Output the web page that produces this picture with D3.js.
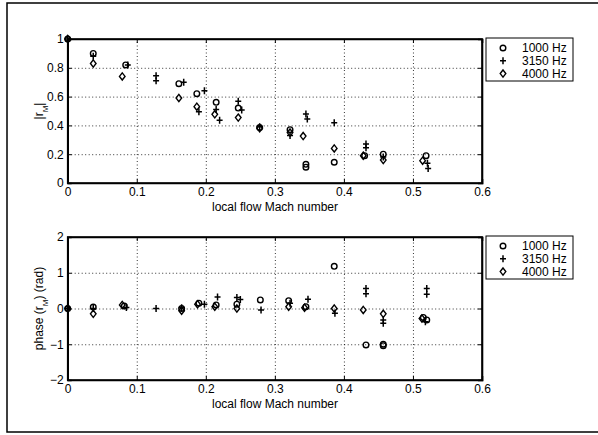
<!DOCTYPE html>
<html>
<head>
<meta charset="utf-8">
<script src="https://cdnjs.cloudflare.com/ajax/libs/d3/7.8.5/d3.min.js"></script>
<style>
  body { margin: 0; background: #fff; }
  text { font-family: "Liberation Sans", Arial, sans-serif; fill: #000; }
  .grid line { stroke: #000; stroke-dasharray: 1,2.5; stroke-width: 0.8; }
  .grid path { display: none; }
</style>
</head>
<body>
<div id="chart"></div>
<script>
// reflection coefficient magnitude |r_M|, [Mach, value]
var mag1000 = [[0,1],[0.037,0.90],[0.084,0.82],[0.161,0.69],[0.187,0.62],[0.215,0.56],[0.247,0.52],
  [0.278,0.385],[0.322,0.37],[0.345,0.13],[0.345,0.11],[0.386,0.144],[0.43,0.19],[0.457,0.20],[0.519,0.19]];
var mag3150 = [[0,1],[0.037,0.88],[0.087,0.82],[0.128,0.745],[0.128,0.71],[0.168,0.70],[0.198,0.64],
  [0.19,0.495],[0.215,0.51],[0.22,0.435],[0.247,0.567],[0.252,0.507],[0.278,0.39],[0.322,0.33],
  [0.345,0.479],[0.347,0.444],[0.386,0.419],[0.432,0.27],[0.432,0.245],[0.457,0.18],[0.521,0.137],[0.522,0.10]];
var mag4000 = [[0,1],[0.037,0.83],[0.079,0.74],[0.161,0.59],[0.187,0.53],[0.213,0.477],[0.247,0.454],
  [0.278,0.38],[0.322,0.35],[0.341,0.326],[0.386,0.24],[0.428,0.19],[0.457,0.16],[0.514,0.155]];

// phase of r_M (rad), [Mach, value]
var phase1000 = [[0,0],[0.037,0.04],[0.082,0.07],[0.165,0.0],[0.19,0.15],[0.215,0.1],[0.245,0.12],
  [0.279,0.24],[0.32,0.22],[0.345,0.05],[0.386,1.18],[0.432,-1.02],[0.457,-1.04],[0.457,-1.0],
  [0.515,-0.25],[0.52,-0.32]];
var phase3150 = [[0,0],[0.037,0.0],[0.085,0.03],[0.128,0.0],[0.165,0.02],[0.198,0.12],[0.217,0.32],
  [0.245,0.31],[0.25,0.25],[0.28,-0.04],[0.322,0.15],[0.348,0.26],[0.387,-0.13],[0.432,0.56],
  [0.432,0.41],[0.457,-0.32],[0.457,-0.41],[0.52,0.56],[0.52,0.40],[0.518,-0.37]];
var phase4000 = [[0,0],[0.037,-0.15],[0.079,0.1],[0.165,-0.06],[0.188,0.12],[0.213,0.05],[0.245,0.0],
  [0.32,0.05],[0.343,0.02],[0.386,0.0],[0.428,-0.04],[0.457,-0.15],[0.513,-0.28]];

var legendLabels = ["1000 Hz", "3150 Hz", "4000 Hz"];
var markers = ["circle", "plus", "diamond"];
var xTicks = [0, 0.1, 0.2, 0.3, 0.4, 0.5, 0.6];
var magTicks = [0, 0.2, 0.4, 0.6, 0.8, 1];
var phaseTicks = [-2, -1, 0, 1, 2];

var svgWidth = 598, svgHeight = 435;
var svg = d3.select("#chart").append("svg")
  .attr("width", svgWidth)
  .attr("height", svgHeight);

svg.append("rect").attr("width", svgWidth).attr("height", svgHeight).attr("fill", "#fff");
// outer figure frame (right side runs off the picture)
svg.append("rect")
  .attr("x", 7).attr("y", 3).attr("width", 620).attr("height", 429)
  .attr("fill", "none").attr("stroke", "#000").attr("stroke-width", 1.5);

function drawMarker(g, type, x, y) {
  if (type == "circle") {
    g.append("circle").attr("cx", x).attr("cy", y).attr("r", 2.8)
      .attr("fill", "none").attr("stroke", "#000").attr("stroke-width", 1.4);
  } else if (type == "plus") {
    g.append("path").attr("d", `M${x-3},${y}H${x+3}M${x},${y-3.5}V${y+3.5}`)
      .attr("stroke", "#000").attr("stroke-width", 1.5);
  } else {
    g.append("path").attr("d", `M${x},${y-3.6}L${x+2.8},${y}L${x},${y+3.6}L${x-2.8},${y}Z`)
      .attr("fill", "none").attr("stroke", "#000").attr("stroke-width", 1.4);
  }
}

function panel(top, bottom, yDomain, yTicks, series, yLabel, legendY) {
  var left = 67.7, right = 482;
  var x = d3.scaleLinear().domain([0, 0.6]).range([left, right]);
  var y = d3.scaleLinear().domain(yDomain).range([bottom, top]);
  var h = bottom - top, w = right - left;

  // dotted grid
  svg.append("g").attr("class", "grid")
    .attr("transform", `translate(0,${bottom})`)
    .call(d3.axisBottom(x).tickValues(xTicks.slice(1, -1)).tickSize(-h).tickFormat(""));
  svg.append("g").attr("class", "grid")
    .attr("transform", `translate(${left},0)`)
    .call(d3.axisLeft(y).tickValues(yTicks.slice(1, -1)).tickSize(-w).tickFormat(""));

  // axes with inward ticks
  var xa = svg.append("g").attr("transform", `translate(0,${bottom})`)
    .call(d3.axisBottom(x).tickValues(xTicks).tickSize(-4).tickPadding(4).tickFormat(d3.format("")));
  var ya = svg.append("g").attr("transform", `translate(${left},0)`)
    .call(d3.axisLeft(y).tickValues(yTicks).tickSize(-4).tickPadding(4).tickFormat(d3.format("")));
  svg.append("g").attr("transform", `translate(0,${top})`)
    .call(d3.axisTop(x).tickValues(xTicks).tickSize(-4).tickFormat(""));
  svg.append("g").attr("transform", `translate(${right},0)`)
    .call(d3.axisRight(y).tickValues(yTicks).tickSize(-4).tickFormat(""));
  svg.selectAll(".domain").attr("stroke", "#000").attr("stroke-width", 1.6);
  svg.selectAll(".tick line").attr("stroke", "#000");
  [xa, ya].forEach(a => a.selectAll("text").attr("font-size", 12).attr("fill", "#000")
    .style("font-family", "'Liberation Sans', Arial, sans-serif"));
  svg.selectAll(".grid .tick line").attr("stroke-width", 0.8);

  svg.append("rect").attr("x", left).attr("y", top).attr("width", w).attr("height", h)
    .attr("fill", "none").attr("stroke", "#000").attr("stroke-width", 1.6);

  // points
  var pts = svg.append("g");
  series.forEach((s, i) => {
    s.forEach(d => drawMarker(pts, markers[i], x(d[0]), y(d[1])));
  });

  // x label
  svg.append("text")
    .attr("x", 275).attr("y", bottom + 28)
    .attr("text-anchor", "middle").attr("font-size", 12)
    .text("local flow Mach number");

  // y label
  var yl = svg.append("text")
    .attr("transform", `translate(${left - 25},${(top + bottom) / 2}) rotate(-90)`)
    .attr("text-anchor", "middle").attr("font-size", 12);
  yLabel(yl);

  // legend
  var lg = svg.append("g").attr("transform", `translate(486,${legendY})`);
  lg.append("rect").attr("width", 87).attr("height", 43)
    .attr("fill", "#fff").attr("stroke", "#000").attr("stroke-width", 1);
  legendLabels.forEach((lab, i) => {
    drawMarker(lg, markers[i], 17, 10 + i * 12.8);
    lg.append("text").attr("x", 36).attr("y", 10 + i * 12.8).attr("dy", "0.35em")
      .attr("font-size", 12).text(lab);
  });
}

panel(39, 183, [0, 1], magTicks, [mag1000, mag3150, mag4000], function (t) {
  t.append("tspan").text("|r");
  t.append("tspan").attr("baseline-shift", "sub").attr("font-size", 8).text("M");
  t.append("tspan").text("|");
}, 38);

panel(237, 380, [-2, 2], phaseTicks, [phase1000, phase3150, phase4000], function (t) {
  t.append("tspan").text("phase (r");
  t.append("tspan").attr("baseline-shift", "sub").attr("font-size", 8).text("M");
  t.append("tspan").text(") (rad)");
}, 236);
</script>
</body>
</html>
